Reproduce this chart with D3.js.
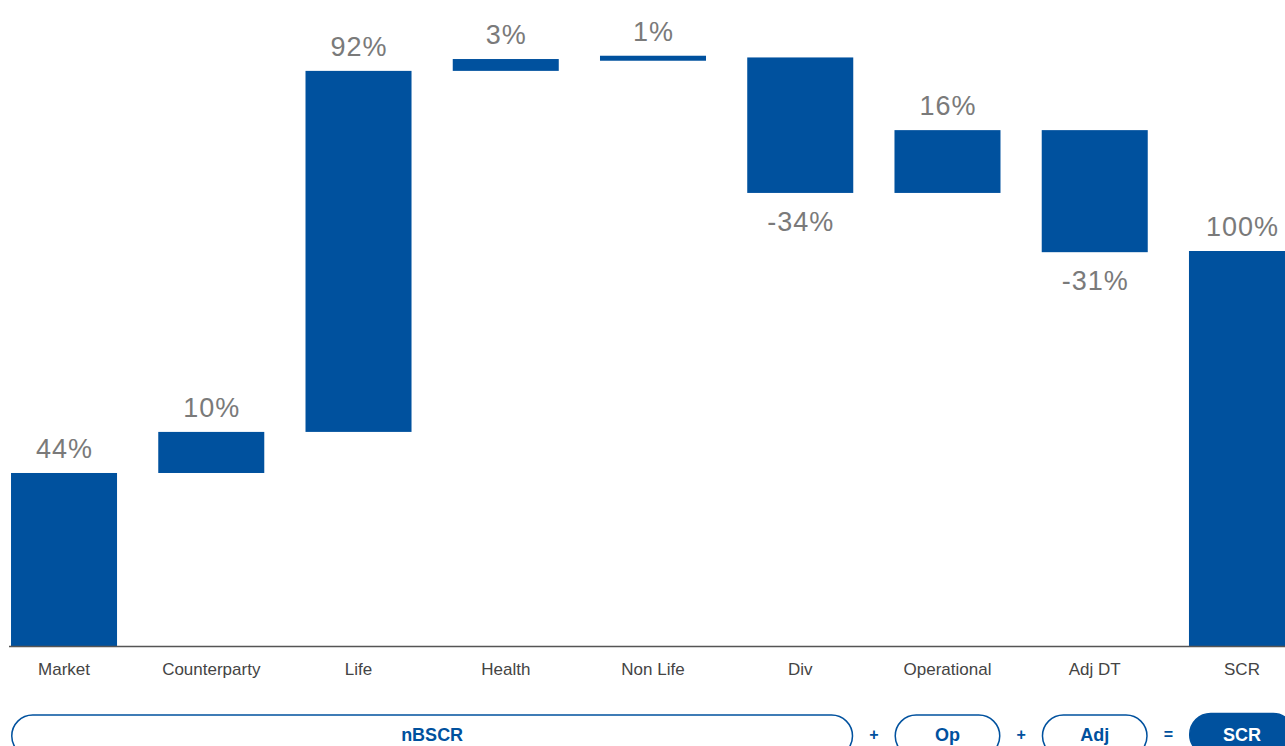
<!DOCTYPE html>
<html>
<head>
<meta charset="utf-8">
<script src="https://cdn.jsdelivr.net/npm/d3@7"></script>
<style>
  body { margin: 0; background: #fff; }
  svg { display: block; font-family: "Liberation Sans", Arial, sans-serif; }
</style>
</head>
<body>
<svg width="1285" height="746"></svg>
<script>
const categories = ["Market", "Counterparty", "Life", "Health", "Non Life", "Div", "Operational", "Adj DT", "SCR"];
// contributions in % of SCR
const changes = [43.8, 10.4, 91.4, 3.0, 0.4, -34.3, 15.9, -30.9, 100];
const labels = ["44%", "10%", "92%", "3%", "1%", "-34%", "16%", "-31%", "100%"];
const totalIndex = 8;

const groups = [
  { name: "nBSCR", from: "Market", to: "Div", filled: false },
  { name: "Op", from: "Operational", to: "Operational", filled: false },
  { name: "Adj", from: "Adj DT", to: "Adj DT", filled: false },
  { name: "SCR", from: "SCR", to: "SCR", filled: true }
];
const operators = [
  { sym: "+", between: ["Div", "Operational"] },
  { sym: "+", between: ["Operational", "Adj DT"] },
  { sym: "=", between: ["Adj DT", "SCR"] }
];

const svg = d3.select("svg"),
      width = +svg.attr("width"),
      height = +svg.attr("height");

const blue = "#00519e";
const minBar = 5;

// build the waterfall steps
let run = 0;
const steps = categories.map(function(c, i) {
  let start, end;
  if (i === totalIndex) { start = 0; end = changes[i]; }
  else { start = run; end = run + changes[i]; run = end; }
  return { cat: c, start: start, end: end, value: changes[i], label: labels[i] };
});

const x = d3.scaleBand()
    .domain(categories)
    .range([-9.6, 1315.6])
    .paddingInner(0.28)
    .paddingOuter(0.14);

const y = d3.scaleLinear()
    .domain([0, 150])
    .range([646, 53.5]);

// bar top/bottom in pixels; very thin steps get a centred sliver
function barTop(d) {
  const h = Math.abs(y(d.start) - y(d.end));
  const t = y(Math.max(d.start, d.end));
  return h < minBar ? t - (minBar - h) / 2 : t;
}
function barBottom(d) {
  const h = Math.abs(y(d.start) - y(d.end));
  const b = y(Math.min(d.start, d.end));
  return h < minBar ? b + (minBar - h) / 2 : b;
}

svg.append("g")
    .selectAll("rect")
    .data(steps)
    .enter().append("rect")
    .attr("x", function(d) { return x(d.cat); })
    .attr("width", x.bandwidth())
    .attr("y", barTop)
    .attr("height", function(d) { return barBottom(d) - barTop(d); })
    .attr("fill", blue);

// value labels
svg.append("g")
    .selectAll("text")
    .data(steps)
    .enter().append("text")
    .attr("x", function(d) { return x(d.cat) + x.bandwidth() / 2 + 0.5; })
    .attr("y", function(d) {
      return d.value >= 0 ? barTop(d) - 15 : barBottom(d) + 38;
    })
    .attr("text-anchor", "middle")
    .attr("font-size", 27)
    .attr("letter-spacing", 1)
    .attr("fill", "#7a7a7a")
    .text(function(d) { return d.label; });

// x axis
const axis = svg.append("g")
    .attr("transform", "translate(0," + y(0) + ")")
    .call(d3.axisBottom(x).tickSize(0).tickPadding(17));
axis.select(".domain").attr("d", "M9,0.5H1285").attr("stroke", "#555").attr("stroke-width", 1.3);
axis.selectAll("text")
    .attr("font-size", 17)
    .attr("font-family", "Liberation Sans, Arial, sans-serif")
    .attr("fill", "#444");

// formula pills below
const pillTop = 715, pillH = 42;
const pill = svg.append("g")
    .selectAll("g")
    .data(groups)
    .enter().append("g");

pill.append("rect")
    .attr("x", function(d) { return x(d.from) + 0.75; })
    .attr("y", function(d) { return d.filled ? pillTop - 1.5 : pillTop; })
    .attr("width", function(d) { return x(d.to) + x.bandwidth() - x(d.from) - 1.5; })
    .attr("height", pillH)
    .attr("rx", 21)
    .attr("fill", function(d) { return d.filled ? blue : "#fff"; })
    .attr("stroke", blue)
    .attr("stroke-width", 1.5);

pill.append("text")
    .attr("x", function(d) { return (x(d.from) + x(d.to) + x.bandwidth()) / 2; })
    .attr("y", 741)
    .attr("text-anchor", "middle")
    .attr("font-size", 18)
    .attr("font-weight", "bold")
    .attr("fill", function(d) { return d.filled ? "#fff" : blue; })
    .text(function(d) { return d.name; });

svg.append("g")
    .selectAll("text")
    .data(operators)
    .enter().append("text")
    .attr("x", function(d) { return (x(d.between[0]) + x.bandwidth() + x(d.between[1])) / 2; })
    .attr("y", 740)
    .attr("text-anchor", "middle")
    .attr("font-size", 16)
    .attr("font-weight", "bold")
    .attr("fill", blue)
    .text(function(d) { return d.sym; });
</script>
</body>
</html>
